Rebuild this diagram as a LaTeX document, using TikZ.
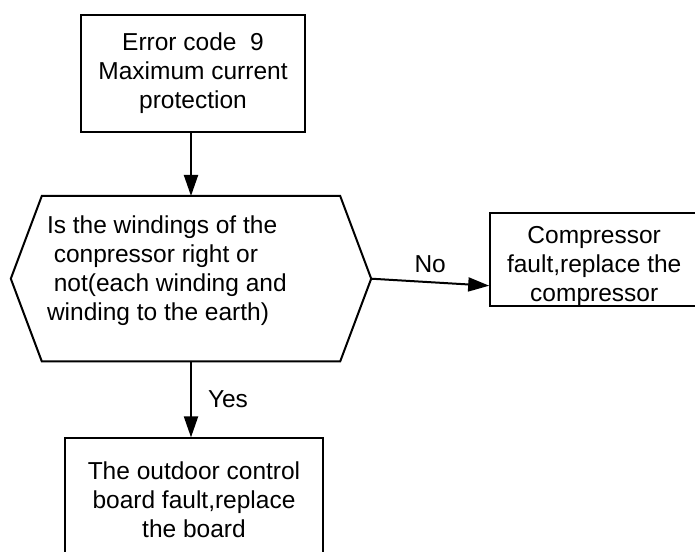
\documentclass[tikz,border=0pt]{standalone}
\usepackage{fontspec}
\setmainfont{Liberation Sans}
\usetikzlibrary{arrows.meta, positioning, calc}

\begin{document}
\begin{tikzpicture}[
    x=1pt, y=1pt,
    node distance=60pt,
    % Styles for the flow chart
    box/.style={rectangle, draw=black, line width=2pt, align=center, inner sep=0pt, font=\fontsize{24.5}{29}\selectfont},
    frame/.style={rectangle, draw=none, minimum width=360pt, minimum height=165pt, inner sep=0pt},
    txt/.style={align=left, inner sep=0pt, font=\fontsize{24.5}{29}\selectfont},
    lbl/.style={inner sep=0pt, font=\fontsize{24.5}{29}\selectfont},
    line/.style={draw, line width=2pt, -{Triangle[length=21pt, width=14pt]}}
]
    \useasboundingbox (0,0) rectangle (695,551);

    % --- START: ERROR CODE ---
    \node [box, minimum width=224pt, minimum height=117pt] (start) at (193,477.5) {Error code\ \ 9\\Maximum current\\protection};

    % --- CHECK: HEXAGON ---
    \node [frame, below=63pt of start, xshift=-2pt] (check) {};
    \draw [line width=2pt, line join=miter] (check.west) -- ([xshift=31pt]check.north west) -- ([xshift=-31pt]check.north east)
        -- (check.east) -- ([xshift=-31pt]check.south east) -- ([xshift=31pt]check.south west) -- cycle;
    \node [txt, anchor=west] (checktxt) at ([xshift=36pt, yshift=8.5pt]check.west)
        {Is the windings of the\\\ conpressor right or\\\ not(each winding and\\winding to the earth)};

    % --- RESULTS ---
    \node [box, minimum width=208pt, minimum height=91pt, right=118pt of check, yshift=19pt] (comp) {\rule{0pt}{30pt}Compressor\\fault,replace the\\compressor};
    \node [box, minimum width=258pt, minimum height=122pt, below=76pt of check, xshift=3pt] (board) {The outdoor control\\board fault,replace\\the board};

    % --- CONNECTIONS ---
    \draw [line] (start.south -| check.north) -- (check.north);
    \draw [line] (check.east) -- node[lbl, above=8pt] (no) {No} ([yshift=-26pt]comp.west);
    \draw [line] (check.south) -- node[lbl, right=16pt] (yes) {Yes} (check.south |- board.north);

\end{tikzpicture}
\end{document}
